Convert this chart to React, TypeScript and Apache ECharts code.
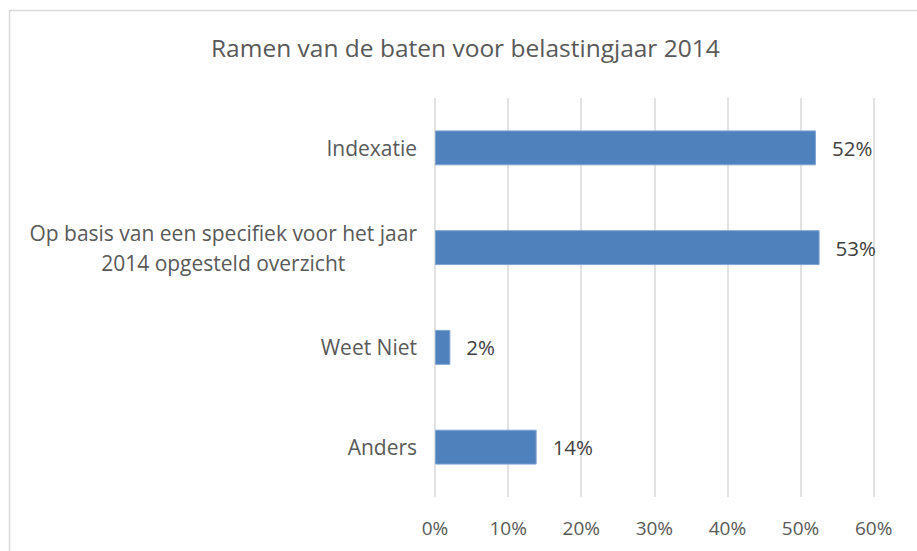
import React, { useEffect, useRef } from "react";
import * as echarts from "echarts";

const title = "Ramen van de baten voor belastingjaar 2014";
const categories = [
  "Indexatie",
  "Op basis van een specifiek voor het jaar\n2014 opgesteld overzicht",
  "Weet Niet",
  "Anders",
];
const values = [52.1, 52.6, 2.1, 13.9];
const valueLabels = ["52%", "53%", "2%", "14%"];
const tickMin = 0;
const tickMax = 60;
const tickStep = 10;

const textColor = "#595959";
const font = "'Open Sans', sans-serif";

export default function App() {
  const ref = useRef<HTMLDivElement>(null);
  useEffect(() => {
    document.body.style.margin = "0";
    const chart = echarts.init(ref.current!, null, { renderer: "svg" });
    chart.setOption({
      animation: false,
      backgroundColor: "#ffffff",
      title: {
        text: title,
        left: 206,
        top: 30,
        textStyle: { fontFamily: font, fontSize: 24.5, fontWeight: "normal", color: textColor },
      },
      graphic: [
        {
          type: "rect",
          shape: { x: 9.5, y: 10.5, width: 1000, height: 1000 },
          style: { fill: "none", stroke: "#d9d9d9", lineWidth: 1.5 },
          silent: true,
        },
      ],
      grid: { left: 435, right: 43.3, top: 98, bottom: 54, containLabel: false },
      xAxis: {
        type: "value",
        min: tickMin,
        max: tickMax,
        interval: tickStep,
        axisLine: { show: false },
        axisTick: { show: false },
        splitLine: { lineStyle: { color: "#d9d9d9", width: 1.5 } },
        axisLabel: {
          formatter: (v: number) => `${v}%`,
          fontFamily: font,
          fontSize: 19,
          color: textColor,
          margin: 21,
        },
      },
      yAxis: {
        type: "category",
        data: categories,
        inverse: true,
        axisLine: { show: false },
        axisTick: { show: false },
        splitLine: { show: false },
        axisLabel: {
          margin: 18,
          fontFamily: font,
          fontSize: 21,
          color: textColor,
          lineHeight: 30,
          formatter: (v: string) =>
            v
              .split("\n")
              .map((l) => `{c|${l}}`)
              .join("\n"),
          rich: {
            c: { align: "center", fontFamily: font, fontSize: 21, color: textColor, lineHeight: 30 },
          },
        },
      },
      series: [
        {
          type: "bar",
          data: values,
          barWidth: "35%",
          itemStyle: { color: "#4f81bd", borderColor: "#7ea3d2", borderWidth: 1 },
          label: {
            show: true,
            position: "right",
            distance: 16,
            formatter: (p: any) => valueLabels[p.dataIndex],
            fontFamily: font,
            fontSize: 20.5,
            color: "#404040",
          },
        },
      ],
    });
    return () => chart.dispose();
  }, []);
  return <div ref={ref} style={{ width: 917, height: 551 }} />;
}
